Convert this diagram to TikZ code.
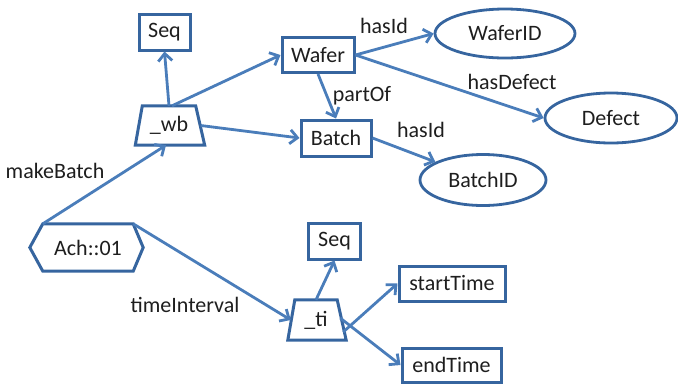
\documentclass[tikz,border=0pt]{standalone}
\usepackage{fontspec}
\setmainfont{Carlito}
\usetikzlibrary{shapes.geometric,arrows.meta}
\definecolor{edgeblue}{HTML}{4A7DBA}
\definecolor{borderblue}{HTML}{36659F}
\definecolor{txt}{HTML}{1E1E1E}
\tikzset{
  base/.style={inner sep=0pt, text=txt, font=\fontsize{22}{25}\selectfont},
  box/.style={base, draw=borderblue, line width=3pt, rectangle},
  oval/.style={base, draw=borderblue, line width=2.8pt, ellipse},
  outline/.style={draw=borderblue, line width=3pt, line join=miter},
  conn/.style={draw=edgeblue, line width=2.8pt, -{Straight Barb[length=7.5pt,width=14pt]}},
  lbl/.style={base}
}
\begin{document}
\begin{tikzpicture}[x=1pt,y=-1pt]
\useasboundingbox (0,0) rectangle (678,384);
% nodes
\node[box, minimum width=51pt, minimum height=36pt] (seqa) at (164.5,32) {Seq};
\node[base, minimum width=53pt, minimum height=39pt] (wb) at (169,125.5) {\raisebox{1pt}{\_wb}};
\draw[outline] (wb.north west) -- (wb.north east) -- ([xshift=9pt]wb.south east)
  -- ([xshift=-7pt]wb.south west) -- cycle;
\node[box, minimum width=72pt, minimum height=35pt] (wafer) at (318,55) {Wafer};
\node[box, minimum width=70pt, minimum height=36pt] (batch) at (336,138) {Batch};
\node[oval, minimum width=140pt, minimum height=49pt] (waferid) at (505,33.5) {WaferID};
\node[oval, minimum width=132pt, minimum height=50pt] (defect) at (611,118) {Defect};
\node[oval, minimum width=126pt, minimum height=51pt] (batchid) at (483,180) {BatchID};
\node[base, minimum width=90pt, minimum height=47pt] (ach) at (88,247.5) {Ach::01};
\draw[outline]
  (ach.north west) -- (ach.north east) -- ([xshift=10pt]ach.east) -- (ach.south east)
  -- (ach.south west) -- ([xshift=-13pt]ach.west) -- cycle;
\node[base, minimum width=42pt, minimum height=40pt] (ti) at (316,320) {\raisebox{1pt}{\_ti}};
\draw[outline] (ti.north west) -- (ti.north east) -- ([xshift=9pt]ti.south east)
  -- ([xshift=-7pt]ti.south west) -- cycle;
\node[box, minimum width=52pt, minimum height=36pt] (seqb) at (334.5,241) {Seq};
\node[box, minimum width=106pt, minimum height=35pt] (start) at (452,283.5) {startTime};
\node[box, minimum width=99pt, minimum height=34pt] (end) at (451.5,365) {endTime};
% connectors
\draw[conn] (wb.north) -- (seqa.south);
\draw[conn] ([xshift=3pt]wb.north) -- (wafer.west);
\draw[conn] ([xshift=5pt]wb.east) -- (batch.west);
\draw[conn] (wafer.south) -- (batch.north);
\draw[conn] (wafer.east) -- (waferid.west);
\draw[conn] (wafer.east) -- (defect.west);
\draw[conn] (batch.east) -- (batchid);
\draw[conn] (ach.north west) -- ([xshift=-3pt]wb.south);
\draw[conn] (ach.north east) -- ([xshift=-4pt]ti.west);
\draw[conn] (ti.north) -- (seqb.south);
\draw[conn] ([xshift=6pt,yshift=-12pt]ti.east) -- (start.west);
\draw[conn] ([xshift=3pt,yshift=2pt]ti.east) -- (end.west);
% labels
\node[lbl] (l1) at (384,26) {hasId};
\node[lbl] (l2) at (512,82) {hasDefect};
\node[lbl] (l3) at (362,96) {partOf};
\node[lbl] (l4) at (421,130) {hasId};
\node[lbl] (l5) at (55,171) {makeBatch};
\node[lbl] (l6) at (185,305) {timeInterval};
\end{tikzpicture}
\end{document}
